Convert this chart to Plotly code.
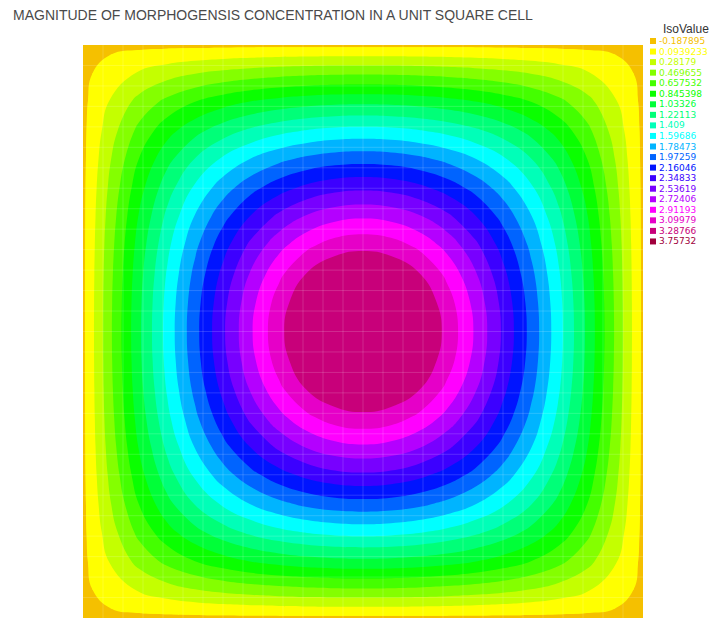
import plotly.graph_objects as go

# ---------------------------------------------------------------- data
title_text = "MAGNITUDE OF MORPHOGENSIS CONCENTRATION IN A UNIT SQUARE CELL"

iso_labels = ["-0.187895", "0.0939233", "0.28179", "0.469655", "0.657532",
              "0.845398", "1.03326", "1.22113", "1.409", "1.59686",
              "1.78473", "1.97259", "2.16046", "2.34833", "2.53619",
              "2.72406", "2.91193", "3.09979", "3.28766", "3.75732"]
iso_values = [float(s) for s in iso_labels]

iso_colors = ["#f5c000", "#ffff00", "#c4ff00", "#84ff00", "#44ff00",
              "#0aff00", "#00ff38", "#00ff78", "#00ffb8", "#00ffff",
              "#00b4ff", "#0064ff", "#0014ff", "#3c00ff", "#7800ff",
              "#b400ff", "#ff00ff", "#e600c8", "#c8007a", "#a0003c"]

# mesh nodes along each side of the unit square
node_coords = [0.0, 0.05, 0.1, 0.15, 0.2, 0.25, 0.3, 0.35, 0.4, 0.45, 0.5,
               0.55, 0.6, 0.65, 0.7, 0.75, 0.8, 0.85, 0.9, 0.95, 1.0]

# concentration on the lower-left quarter (rows: y = 0 .. 0.5, cols: x = 0 .. 0.5)
quarter_field = [
    [0.05, 0.050, 0.050, 0.050, 0.050, 0.050, 0.050, 0.050, 0.050, 0.050, 0.050],
    [0.05, 0.182, 0.304, 0.396, 0.469, 0.526, 0.569, 0.600, 0.622, 0.635, 0.640],
    [0.05, 0.304, 0.535, 0.712, 0.852, 0.962, 1.048, 1.111, 1.154, 1.179, 1.187],
    [0.05, 0.396, 0.712, 0.964, 1.165, 1.326, 1.452, 1.547, 1.613, 1.652, 1.665],
    [0.05, 0.469, 0.852, 1.165, 1.422, 1.631, 1.799, 1.930, 2.024, 2.080, 2.099],
    [0.05, 0.526, 0.962, 1.326, 1.631, 1.888, 2.102, 2.275, 2.401, 2.480, 2.507],
    [0.05, 0.569, 1.048, 1.452, 1.799, 2.102, 2.366, 2.584, 2.750, 2.855, 2.892],
    [0.05, 0.600, 1.111, 1.547, 1.930, 2.275, 2.584, 2.850, 3.058, 3.190, 3.236],
    [0.05, 0.622, 1.154, 1.613, 2.024, 2.401, 2.750, 3.058, 3.301, 3.458, 3.513],
    [0.05, 0.635, 1.179, 1.652, 2.080, 2.480, 2.855, 3.190, 3.458, 3.634, 3.694],
    [0.05, 0.640, 1.187, 1.665, 2.099, 2.507, 2.892, 3.236, 3.513, 3.694, 3.757],
]

# the cell is symmetric about both mid-lines: reflect the quarter
half_rows = [row + row[-2::-1] for row in quarter_field]
field = half_rows + half_rows[-2::-1]

# ---------------------------------------------------------------- colours
band_colors = iso_colors[:19]


def stepped_scale(colors):
    """Flat colour per band; band k is sampled at k/(n-1) by the contour trace."""
    n = len(colors)
    scale = []
    for k, c in enumerate(colors):
        scale.append([max(0.0, (k - 0.5) / (n - 1)), c])
        scale.append([min(1.0, (k + 0.5) / (n - 1)), c])
    return scale


step = (iso_values[18] - iso_values[1]) / 17
contour_levels = dict(start=iso_values[1], end=iso_values[18] + 1e-4, size=step,
                      coloring="fill", showlines=False)

fig = go.Figure()
# straight-edged bands: keeps the outermost band hugging the cell wall
fig.add_trace(go.Contour(
    x=node_coords, y=node_coords, z=field,
    autocontour=False, contours=contour_levels,
    colorscale=stepped_scale(band_colors), showscale=False,
    line=dict(width=0, smoothing=0), hoverinfo="skip",
))
# smoothed bands on top; the outermost band is left see-through
fig.add_trace(go.Contour(
    x=node_coords, y=node_coords, z=field,
    autocontour=False, contours=contour_levels,
    colorscale=stepped_scale(["rgba(0,0,0,0)"] + band_colors[1:]), showscale=False,
    line=dict(width=0, smoothing=1.3), hoverinfo="skip",
))

# ---------------------------------------------------------------- layout
W, H = 716, 623
L, R, T, B = 83, 73, 45, 5
pw, ph = W - L - R, H - T - B


def px_x(px):
    return (px - L) / pw


def px_y(py):
    return (H - B - py) / ph


annotations = [
    dict(text=title_text, xref="paper", yref="paper",
         x=px_x(11), y=px_y(15), xanchor="left", yanchor="middle",
         showarrow=False,
         font=dict(family="Liberation Sans, Arial", size=14, color="#4a4a4a")),
    dict(text="IsoValue", xref="paper", yref="paper",
         x=px_x(686), y=px_y(29), xanchor="center", yanchor="middle",
         showarrow=False, borderpad=0,
         font=dict(family="Liberation Sans, Arial", size=12, color="#333333")),
]
shapes = []

# faint mesh lines over the field
n_cells = 28
for k in range(1, n_cells):
    shapes.append(dict(type="line", xref="x", yref="y", x0=k / n_cells, x1=k / n_cells,
                       y0=0, y1=1, layer="above",
                       line=dict(color="rgba(255,255,255,0.16)", width=1)))
    shapes.append(dict(type="line", xref="x", yref="y", y0=k / n_cells, y1=k / n_cells,
                       x0=0, x1=1, layer="above",
                       line=dict(color="rgba(255,255,255,0.16)", width=1)))

row0, row_gap = 41.0, 10.55
for i, (lab, col) in enumerate(zip(iso_labels, iso_colors)):
    cy = row0 + i * row_gap
    shapes.append(dict(type="rect", xref="paper", yref="paper",
                       x0=px_x(650), x1=px_x(656),
                       y0=px_y(cy + 3), y1=px_y(cy - 3),
                       fillcolor=col, line=dict(width=0)))
    annotations.append(dict(text=lab, xref="paper", yref="paper",
                            x=px_x(658), y=px_y(cy), xanchor="left",
                            yanchor="middle", showarrow=False, borderpad=0,
                            font=dict(family="DejaVu Sans", size=9, color=col)))

fig.update_layout(
    width=W, height=H,
    margin=dict(l=L, r=R, t=T, b=B),
    paper_bgcolor="white", plot_bgcolor="white",
    xaxis=dict(range=[0, 1], visible=False, showgrid=False, zeroline=False),
    yaxis=dict(range=[0, 1], visible=False, showgrid=False, zeroline=False),
    annotations=annotations,
    shapes=shapes,
    showlegend=False,
)

fig.write_html("out.html")
